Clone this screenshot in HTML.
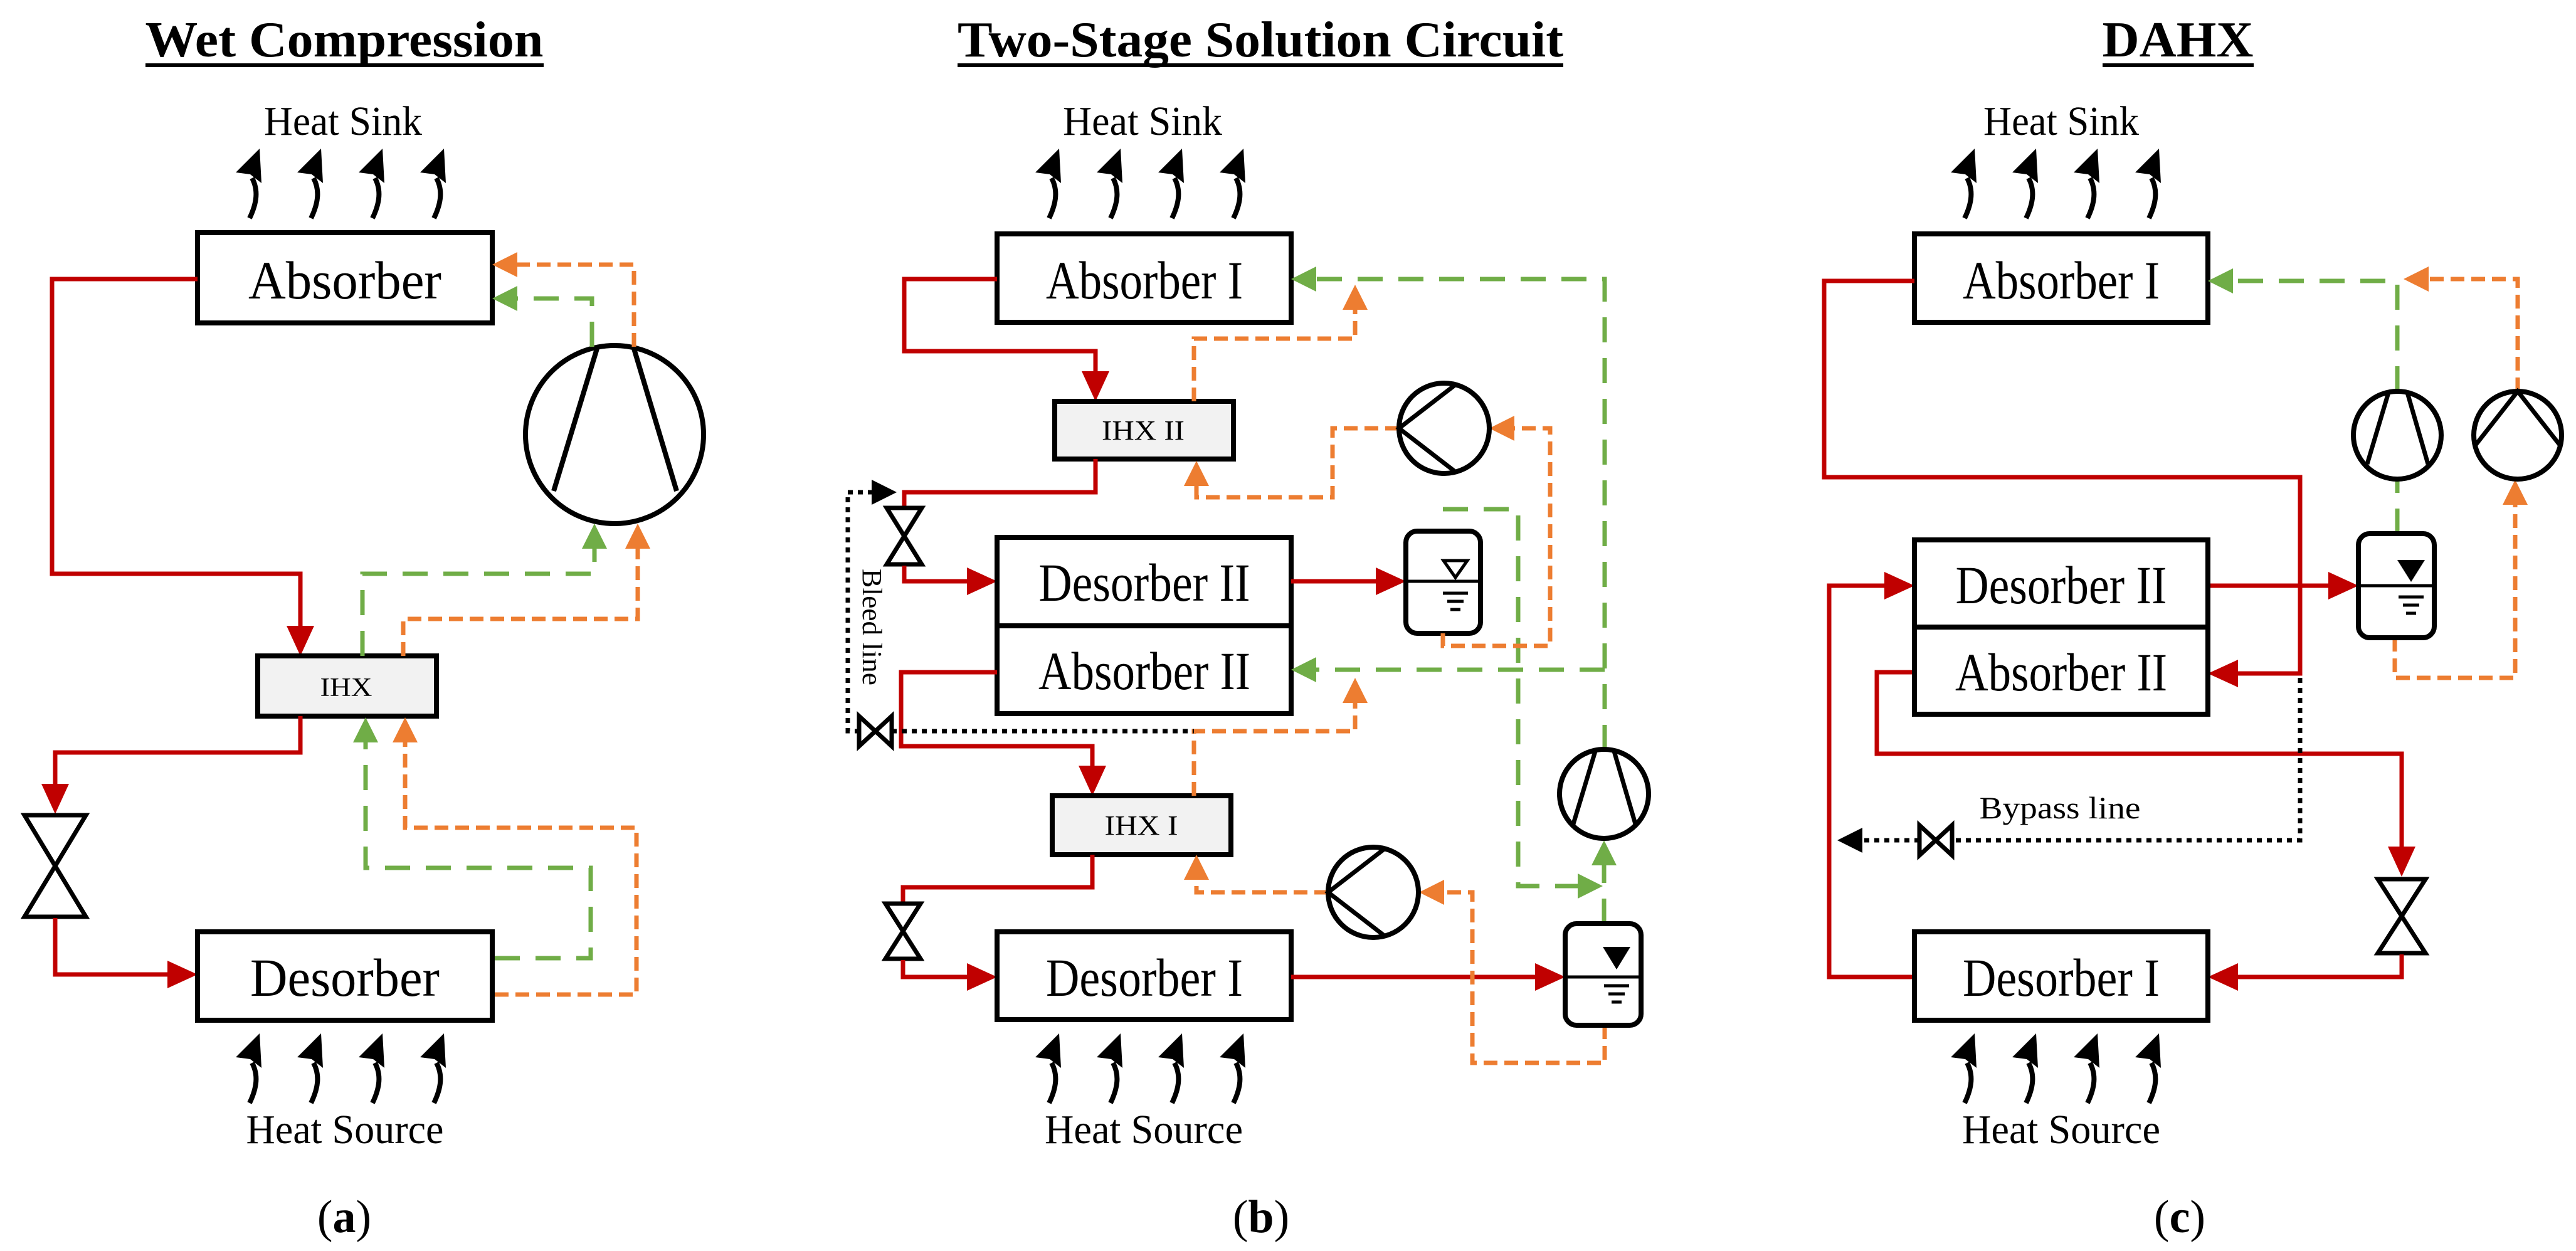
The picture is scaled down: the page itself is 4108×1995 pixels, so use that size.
<!DOCTYPE html>
<html><head><meta charset="utf-8"><style>
html,body{margin:0;padding:0;background:#fff;}
svg{display:block;}
text{font-family:"Liberation Serif",serif;fill:#000;}
</style></head><body>
<svg width="4108" height="1995" viewBox="0 0 4108 1995" xmlns="http://www.w3.org/2000/svg">
<defs>
<g id="ha">
<path d="M0,0 C12,-25 14,-45 4,-64" fill="none" stroke="#000" stroke-width="8"/>
<polygon points="16,-111 -22,-73 1,-70 19,-56" fill="#000"/>
</g>
</defs>
<g fill="none" stroke-linejoin="miter">

<!-- ============ PANEL A ============ -->
<text x="549" y="90" font-size="80" font-weight="bold" text-anchor="middle" textLength="635" lengthAdjust="spacingAndGlyphs">Wet Compression</text>
<line x1="232" y1="104" x2="867" y2="104" stroke="#000" stroke-width="6"/>
<text x="547" y="215" font-size="66" text-anchor="middle" textLength="252" lengthAdjust="spacingAndGlyphs">Heat Sink</text>
<use href="#ha" x="398" y="348"/><use href="#ha" x="496" y="348"/><use href="#ha" x="594" y="348"/><use href="#ha" x="692" y="348"/>
<rect x="315" y="371" width="470" height="144" stroke="#000" stroke-width="8" fill="#fff"/>
<text x="550" y="476" font-size="86" text-anchor="middle" textLength="308" lengthAdjust="spacingAndGlyphs">Absorber</text>

<polyline points="315,445 83,445 83,915 479,915 479,1000" stroke="#C00000" stroke-width="7"/>
<polygon points="479,1046 457,998 501,998" fill="#C00000"/>
<rect x="411" y="1046" width="285" height="96" stroke="#000" stroke-width="8" fill="#f2f2f2"/>
<text x="552" y="1110" font-size="42" text-anchor="middle" textLength="83" lengthAdjust="spacingAndGlyphs">IHX</text>
<polyline points="479,1142 479,1200 88,1200 88,1255" stroke="#C00000" stroke-width="7"/>
<polygon points="88,1298 66,1250 110,1250" fill="#C00000"/>
<polygon points="39,1300 137,1300 88,1381" stroke="#000" stroke-width="7" fill="#fff"/>
<polygon points="39,1462 137,1462 88,1381" stroke="#000" stroke-width="7" fill="#fff"/>
<polyline points="88,1464 88,1554 270,1554" stroke="#C00000" stroke-width="7"/>
<polygon points="315,1554 267,1532 267,1576" fill="#C00000"/>
<rect x="315" y="1486" width="470" height="141" stroke="#000" stroke-width="8" fill="#fff"/>
<text x="550" y="1588" font-size="86" text-anchor="middle" textLength="302" lengthAdjust="spacingAndGlyphs">Desorber</text>
<use href="#ha" x="398" y="1759"/><use href="#ha" x="496" y="1759"/><use href="#ha" x="594" y="1759"/><use href="#ha" x="692" y="1759"/>
<text x="550" y="1823" font-size="66" text-anchor="middle" textLength="315" lengthAdjust="spacingAndGlyphs">Heat Source</text>

<circle cx="980" cy="693" r="142" stroke="#000" stroke-width="8" fill="#fff"/>
<line x1="952" y1="556" x2="883" y2="783" stroke="#000" stroke-width="8"/>
<line x1="1011" y1="556" x2="1079" y2="783" stroke="#000" stroke-width="8"/>

<polyline points="944,553 944,476 825,476" stroke="#70AD47" stroke-width="7" stroke-dasharray="40,25"/>
<polygon points="785,476 825,456 825,496" fill="#70AD47"/>
<polyline points="1011,553 1011,422 825,422" stroke="#ED7D31" stroke-width="7" stroke-dasharray="22,11"/>
<polygon points="785,422 825,402 825,442" fill="#ED7D31"/>
<polyline points="578,1046 578,915 948,915 948,875" stroke="#70AD47" stroke-width="7" stroke-dasharray="40,25"/>
<polygon points="948,835 928,875 968,875" fill="#70AD47"/>
<polyline points="643,1046 643,987 1017,987 1017,875" stroke="#ED7D31" stroke-width="7" stroke-dasharray="22,11"/>
<polygon points="1017,835 997,875 1037,875" fill="#ED7D31"/>
<polyline points="789,1528 942,1528 942,1384 583,1384 583,1182" stroke="#70AD47" stroke-width="7" stroke-dasharray="40,25"/>
<polygon points="583,1144 563,1184 603,1184" fill="#70AD47"/>
<polyline points="789,1586 1015,1586 1015,1320 646,1320 646,1182" stroke="#ED7D31" stroke-width="7" stroke-dasharray="22,11"/>
<polygon points="646,1144 626,1184 666,1184" fill="#ED7D31"/>
<text x="549" y="1965" font-size="74" text-anchor="middle">(<tspan font-weight="bold">a</tspan>)</text>

<!-- ============ PANEL B ============ -->
<text x="2010" y="90" font-size="80" font-weight="bold" text-anchor="middle" textLength="966" lengthAdjust="spacingAndGlyphs">Two-Stage Solution Circuit</text>
<line x1="1527" y1="104" x2="2493" y2="104" stroke="#000" stroke-width="6"/>
<text x="1822" y="215" font-size="66" text-anchor="middle" textLength="254" lengthAdjust="spacingAndGlyphs">Heat Sink</text>
<use href="#ha" x="1673" y="348"/><use href="#ha" x="1771" y="348"/><use href="#ha" x="1869" y="348"/><use href="#ha" x="1967" y="348"/>
<rect x="1590" y="373" width="469" height="141" stroke="#000" stroke-width="8" fill="#fff"/>
<text x="1825" y="476" font-size="86" text-anchor="middle" textLength="314" lengthAdjust="spacingAndGlyphs">Absorber I</text>

<polyline points="1590,445 1442,445 1442,560 1747,560 1747,598" stroke="#C00000" stroke-width="7"/>
<polygon points="1747,640 1725,592 1769,592" fill="#C00000"/>
<rect x="1682" y="640" width="285" height="92" stroke="#000" stroke-width="8" fill="#f2f2f2"/>
<text x="1823" y="701" font-size="44" text-anchor="middle" textLength="132" lengthAdjust="spacingAndGlyphs">IHX II</text>
<polyline points="1747,732 1747,785 1442,785 1442,808" stroke="#C00000" stroke-width="7"/>
<polygon points="1414,810 1470,810 1442,855" stroke="#000" stroke-width="7" fill="#fff"/>
<polygon points="1414,900 1470,900 1442,855" stroke="#000" stroke-width="7" fill="#fff"/>
<polyline points="1442,902 1442,927 1545,927" stroke="#C00000" stroke-width="7"/>
<polygon points="1590,927 1542,905 1542,949" fill="#C00000"/>
<rect x="1590" y="857" width="469" height="141" stroke="#000" stroke-width="8" fill="#fff"/>
<rect x="1590" y="998" width="469" height="140" stroke="#000" stroke-width="8" fill="#fff"/>
<text x="1825" y="958" font-size="86" text-anchor="middle" textLength="337" lengthAdjust="spacingAndGlyphs">Desorber II</text>
<text x="1825" y="1099" font-size="86" text-anchor="middle" textLength="338" lengthAdjust="spacingAndGlyphs">Absorber II</text>
<polyline points="2059,927 2200,927" stroke="#C00000" stroke-width="7"/>
<polygon points="2242,927 2194,905 2194,949" fill="#C00000"/>
<rect x="2242" y="847" width="119" height="163" rx="18" stroke="#000" stroke-width="8" fill="#fff"/>
<line x1="2242" y1="927" x2="2361" y2="927" stroke="#000" stroke-width="5"/>
<polygon points="2302,894 2340,894 2321,921" stroke="#000" stroke-width="5" fill="#fff"/>
<line x1="2301" y1="946" x2="2341" y2="946" stroke="#000" stroke-width="5"/>
<line x1="2308" y1="959" x2="2334" y2="959" stroke="#000" stroke-width="5"/>
<line x1="2313" y1="972" x2="2329" y2="972" stroke="#000" stroke-width="5"/>

<polyline points="1590,1072 1437,1072 1437,1190 1742,1190 1742,1224" stroke="#C00000" stroke-width="7"/>
<polygon points="1742,1269 1720,1221 1764,1221" fill="#C00000"/>
<rect x="1678" y="1269" width="285" height="94" stroke="#000" stroke-width="8" fill="#f2f2f2"/>
<text x="1820" y="1331" font-size="44" text-anchor="middle" textLength="117" lengthAdjust="spacingAndGlyphs">IHX I</text>
<polyline points="1742,1363 1742,1415 1440,1415 1440,1439" stroke="#C00000" stroke-width="7"/>
<polygon points="1412,1441 1468,1441 1440,1485" stroke="#000" stroke-width="7" fill="#fff"/>
<polygon points="1412,1529 1468,1529 1440,1485" stroke="#000" stroke-width="7" fill="#fff"/>
<polyline points="1440,1531 1440,1558 1545,1558" stroke="#C00000" stroke-width="7"/>
<polygon points="1590,1558 1542,1536 1542,1580" fill="#C00000"/>
<rect x="1590" y="1486" width="469" height="140" stroke="#000" stroke-width="8" fill="#fff"/>
<text x="1825" y="1588" font-size="86" text-anchor="middle" textLength="314" lengthAdjust="spacingAndGlyphs">Desorber I</text>
<polyline points="2059,1558 2452,1558" stroke="#C00000" stroke-width="7"/>
<polygon points="2496,1558 2448,1536 2448,1580" fill="#C00000"/>
<use href="#ha" x="1673" y="1759"/><use href="#ha" x="1771" y="1759"/><use href="#ha" x="1869" y="1759"/><use href="#ha" x="1967" y="1759"/>
<text x="1824" y="1823" font-size="66" text-anchor="middle" textLength="316" lengthAdjust="spacingAndGlyphs">Heat Source</text>

<!-- green b -->
<polyline points="2559,1196 2559,445 2099,445" stroke="#70AD47" stroke-width="7" stroke-dasharray="40,25"/>
<polygon points="2059,445 2099,425 2099,465" fill="#70AD47"/>
<polyline points="2559,1068 2099,1068" stroke="#70AD47" stroke-width="7" stroke-dasharray="40,25"/>
<polygon points="2059,1068 2099,1048 2099,1088" fill="#70AD47"/>
<polyline points="2301,812 2421,812 2421,1413 2516,1413" stroke="#70AD47" stroke-width="7" stroke-dasharray="40,25"/>
<polygon points="2556,1413 2516,1393 2516,1433" fill="#70AD47"/>
<polyline points="2558,1473 2558,1380" stroke="#70AD47" stroke-width="7" stroke-dasharray="40,25"/>
<polygon points="2558,1340 2538,1380 2578,1380" fill="#70AD47"/>

<!-- orange b -->
<polyline points="1904,640 1904,540 2161,540 2161,494" stroke="#ED7D31" stroke-width="7" stroke-dasharray="22,11"/>
<polygon points="2161,454 2141,494 2181,494" fill="#ED7D31"/>
<polyline points="2231,683 2125,683 2125,793 1908,793 1908,775" stroke="#ED7D31" stroke-width="7" stroke-dasharray="22,11"/>
<polygon points="1908,735 1888,775 1928,775" fill="#ED7D31"/>
<polyline points="2301,1010 2301,1030 2472,1030 2472,683 2415,683" stroke="#ED7D31" stroke-width="7" stroke-dasharray="22,11"/>
<polygon points="2375,683 2415,663 2415,703" fill="#ED7D31"/>
<polyline points="1904,1269 1904,1166 2161,1166 2161,1121" stroke="#ED7D31" stroke-width="7" stroke-dasharray="22,11"/>
<polygon points="2161,1081 2141,1121 2181,1121" fill="#ED7D31"/>
<polyline points="2118,1423 1908,1423 1908,1403" stroke="#ED7D31" stroke-width="7" stroke-dasharray="22,11"/>
<polygon points="1908,1363 1888,1403 1928,1403" fill="#ED7D31"/>
<polyline points="2559,1635 2559,1695 2348,1695 2348,1423 2303,1423" stroke="#ED7D31" stroke-width="7" stroke-dasharray="22,11"/>
<polygon points="2263,1423 2303,1403 2303,1443" fill="#ED7D31"/>

<rect x="2496" y="1473" width="121" height="162" rx="18" stroke="#000" stroke-width="8" fill="#fff"/>
<line x1="2496" y1="1558" x2="2617" y2="1558" stroke="#000" stroke-width="5"/>
<polygon points="2556,1510 2600,1510 2578,1546" fill="#000"/>
<line x1="2558" y1="1572" x2="2598" y2="1572" stroke="#000" stroke-width="5"/>
<line x1="2565" y1="1585" x2="2591" y2="1585" stroke="#000" stroke-width="5"/>
<line x1="2570" y1="1598" x2="2586" y2="1598" stroke="#000" stroke-width="5"/>

<circle cx="2558" cy="1266" r="71" stroke="#000" stroke-width="8" fill="#fff"/>
<line x1="2544" y1="1198" x2="2509" y2="1314" stroke="#000" stroke-width="7"/>
<line x1="2574" y1="1198" x2="2608" y2="1314" stroke="#000" stroke-width="7"/>
<circle cx="2303" cy="683" r="72" stroke="#000" stroke-width="8" fill="#fff"/>
<polyline points="2323,612 2231,683 2323,754" stroke="#000" stroke-width="7"/>
<circle cx="2190" cy="1423" r="72" stroke="#000" stroke-width="8" fill="#fff"/>
<polyline points="2210,1352 2118,1423 2210,1494" stroke="#000" stroke-width="7"/>

<!-- bleed line -->
<polyline points="1392,785 1352,785 1352,1166 1370,1166" stroke="#000" stroke-width="7" stroke-dasharray="8,8"/>
<polygon points="1430,785 1390,765 1390,805" fill="#000"/>
<polyline points="1422,1166 1904,1166" stroke="#000" stroke-width="7" stroke-dasharray="8,8"/>
<polygon points="1370,1142 1370,1190 1396,1166" stroke="#000" stroke-width="7" fill="#fff"/>
<polygon points="1422,1142 1422,1190 1396,1166" stroke="#000" stroke-width="7" fill="#fff"/>
<text x="0" y="0" font-size="44" text-anchor="middle" transform="translate(1376,1000) rotate(90)" textLength="186" lengthAdjust="spacingAndGlyphs">Bleed line</text>
<text x="2011" y="1965" font-size="74" text-anchor="middle">(<tspan font-weight="bold">b</tspan>)</text>

<!-- ============ PANEL C ============ -->
<text x="3473" y="90" font-size="80" font-weight="bold" text-anchor="middle" textLength="241" lengthAdjust="spacingAndGlyphs">DAHX</text>
<line x1="3353" y1="104" x2="3594" y2="104" stroke="#000" stroke-width="6"/>
<text x="3287" y="215" font-size="66" text-anchor="middle" textLength="248" lengthAdjust="spacingAndGlyphs">Heat Sink</text>
<use href="#ha" x="3133" y="348"/><use href="#ha" x="3231" y="348"/><use href="#ha" x="3329" y="348"/><use href="#ha" x="3427" y="348"/>
<rect x="3053" y="373" width="468" height="141" stroke="#000" stroke-width="8" fill="#fff"/>
<text x="3287" y="476" font-size="86" text-anchor="middle" textLength="314" lengthAdjust="spacingAndGlyphs">Absorber I</text>

<polyline points="3053,448 2909,448 2909,761 3668,761 3668,1074 3561,1074" stroke="#C00000" stroke-width="7"/>
<polygon points="3521,1074 3569,1052 3569,1096" fill="#C00000"/>
<polyline points="3053,1558 2917,1558 2917,934 3010,934" stroke="#C00000" stroke-width="7"/>
<polygon points="3053,934 3005,912 3005,956" fill="#C00000"/>
<polyline points="3521,934 3717,934" stroke="#C00000" stroke-width="7"/>
<polygon points="3761,934 3713,912 3713,956" fill="#C00000"/>
<polyline points="3053,1072 2993,1072 2993,1202 3830,1202 3830,1352" stroke="#C00000" stroke-width="7"/>
<polygon points="3830,1398 3808,1350 3852,1350" fill="#C00000"/>
<polygon points="3792,1402 3868,1402 3830,1461" stroke="#000" stroke-width="7" fill="#fff"/>
<polygon points="3792,1520 3868,1520 3830,1461" stroke="#000" stroke-width="7" fill="#fff"/>
<polyline points="3830,1522 3830,1558 3565,1558" stroke="#C00000" stroke-width="7"/>
<polygon points="3521,1558 3569,1536 3569,1580" fill="#C00000"/>

<rect x="3053" y="861" width="468" height="139" stroke="#000" stroke-width="8" fill="#fff"/>
<rect x="3053" y="1000" width="468" height="139" stroke="#000" stroke-width="8" fill="#fff"/>
<text x="3287" y="962" font-size="86" text-anchor="middle" textLength="337" lengthAdjust="spacingAndGlyphs">Desorber II</text>
<text x="3287" y="1101" font-size="86" text-anchor="middle" textLength="338" lengthAdjust="spacingAndGlyphs">Absorber II</text>
<rect x="3053" y="1486" width="468" height="141" stroke="#000" stroke-width="8" fill="#fff"/>
<text x="3287" y="1588" font-size="86" text-anchor="middle" textLength="314" lengthAdjust="spacingAndGlyphs">Desorber I</text>
<use href="#ha" x="3133" y="1759"/><use href="#ha" x="3231" y="1759"/><use href="#ha" x="3329" y="1759"/><use href="#ha" x="3427" y="1759"/>
<text x="3287" y="1823" font-size="66" text-anchor="middle" textLength="316" lengthAdjust="spacingAndGlyphs">Heat Source</text>

<!-- bypass -->
<polyline points="3668,1081 3668,1340 3113,1340" stroke="#000" stroke-width="7" stroke-dasharray="8,8"/>
<polyline points="3061,1340 2968,1340" stroke="#000" stroke-width="7" stroke-dasharray="8,8"/>
<polygon points="2930,1340 2970,1320 2970,1360" fill="#000"/>
<polygon points="3061,1316 3061,1364 3087,1340" stroke="#000" stroke-width="7" fill="#fff"/>
<polygon points="3113,1316 3113,1364 3087,1340" stroke="#000" stroke-width="7" fill="#fff"/>
<text x="3285" y="1305" font-size="50" text-anchor="middle" textLength="257" lengthAdjust="spacingAndGlyphs">Bypass line</text>

<!-- green/orange c -->
<polyline points="3823,851 3823,764" stroke="#70AD47" stroke-width="7" stroke-dasharray="40,25"/>
<polyline points="3823,624 3823,448 3561,448" stroke="#70AD47" stroke-width="7" stroke-dasharray="40,25"/>
<polygon points="3521,448 3561,428 3561,468" fill="#70AD47"/>
<polyline points="4015,624 4015,445 3873,445" stroke="#ED7D31" stroke-width="7" stroke-dasharray="22,11"/>
<polygon points="3833,445 3873,425 3873,465" fill="#ED7D31"/>
<polyline points="3819,1017 3819,1081 4011,1081 4011,805" stroke="#ED7D31" stroke-width="7" stroke-dasharray="22,11"/>
<polygon points="4011,765 3991,805 4031,805" fill="#ED7D31"/>

<rect x="3761" y="851" width="121" height="166" rx="18" stroke="#000" stroke-width="8" fill="#fff"/>
<line x1="3761" y1="934" x2="3882" y2="934" stroke="#000" stroke-width="5"/>
<polygon points="3823,893 3867,893 3845,928" fill="#000"/>
<line x1="3825" y1="952" x2="3865" y2="952" stroke="#000" stroke-width="5"/>
<line x1="3832" y1="965" x2="3858" y2="965" stroke="#000" stroke-width="5"/>
<line x1="3837" y1="978" x2="3853" y2="978" stroke="#000" stroke-width="5"/>

<circle cx="3823" cy="694" r="70" stroke="#000" stroke-width="8" fill="#fff"/>
<line x1="3809" y1="626" x2="3775" y2="740" stroke="#000" stroke-width="7"/>
<line x1="3839" y1="626" x2="3872" y2="740" stroke="#000" stroke-width="7"/>
<circle cx="4015" cy="694" r="70" stroke="#000" stroke-width="8" fill="#fff"/>
<polyline points="3946,712 4015,624 4084,712" stroke="#000" stroke-width="7"/>
<text x="3476" y="1965" font-size="74" text-anchor="middle">(<tspan font-weight="bold">c</tspan>)</text>
</g>
</svg>
</body></html>
